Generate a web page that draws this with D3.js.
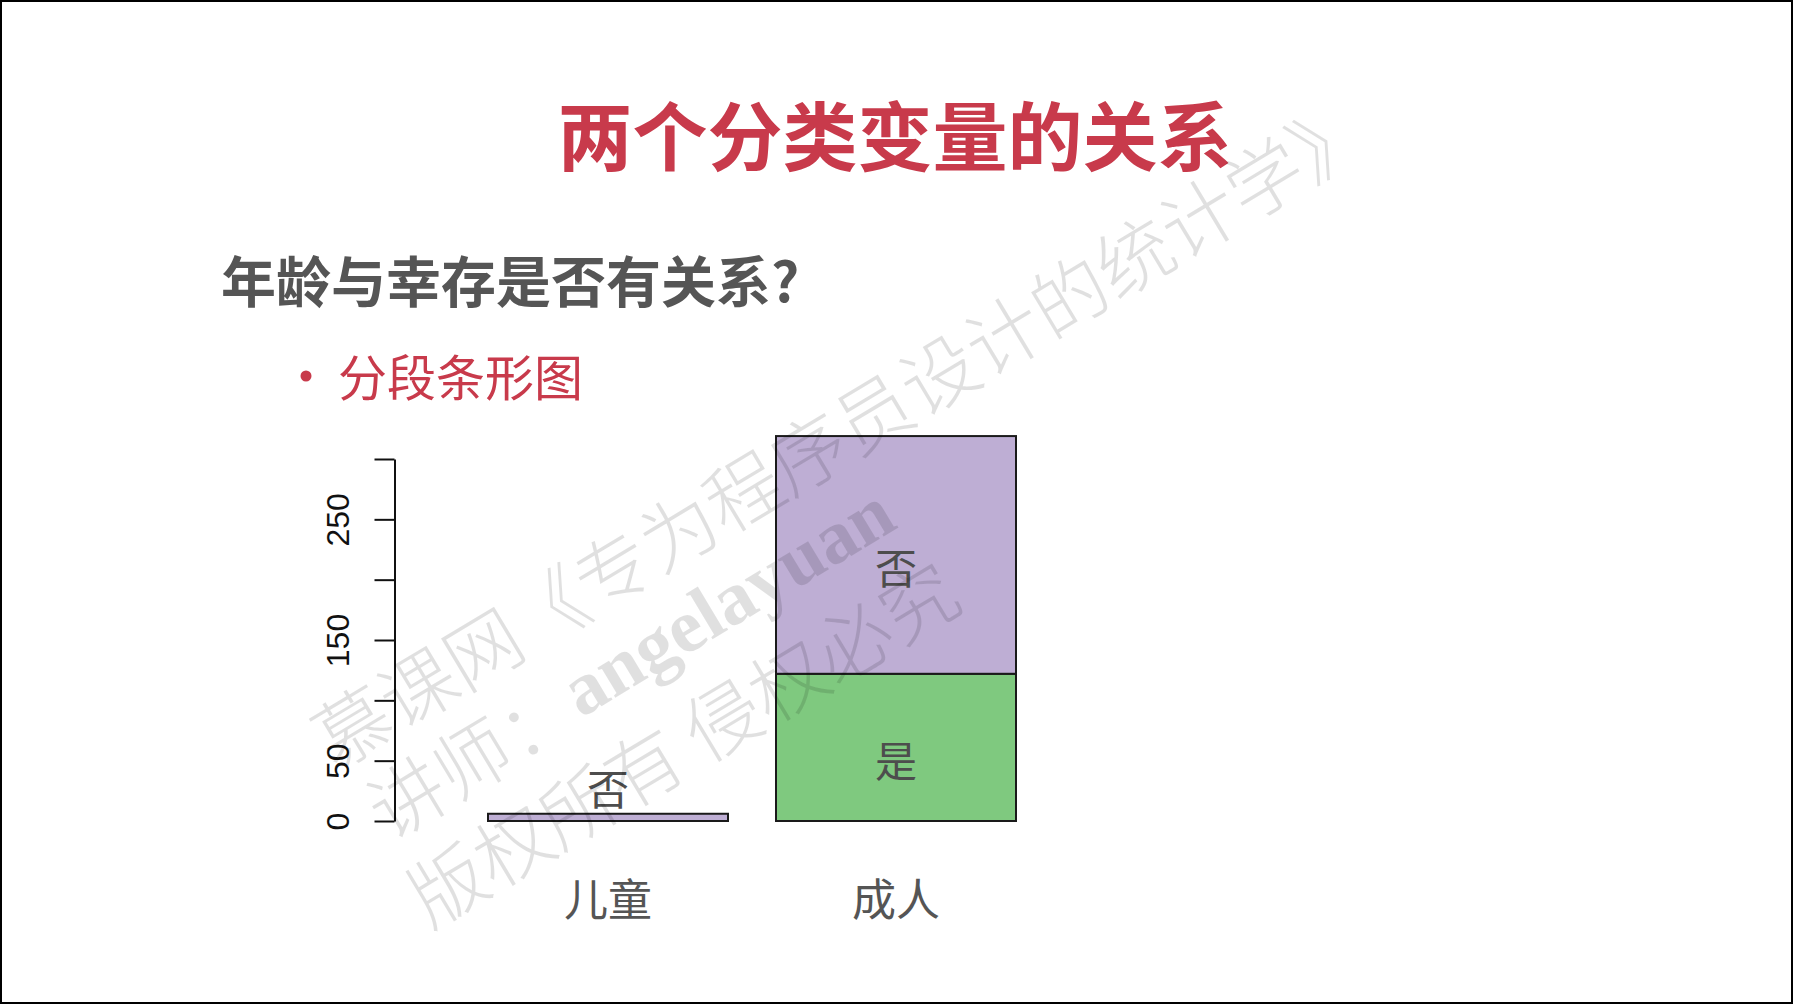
<!DOCTYPE html>
<html>
<head>
<meta charset="utf-8">
<script src="https://cdn.jsdelivr.net/npm/d3@7"></script>
<style>
  html, body { margin: 0; padding: 0; background: #fff; }
  svg { display: block; }
</style>
</head>
<body>
<svg id="chart" width="1793" height="1004"></svg>
<script>
// ---- data ----
const categories = ["儿童", "成人"];
const groups = ["是", "否"];
const yesValues = [0, 122];
const noValues = [6, 197];
const groupColors = ["#7FC97F", "#BEAED4"];
const yTicks = [0, 50, 100, 150, 200, 250, 300];
const yTickLabels = ["0", "50", "", "150", "", "250", ""];
const titleText = "两个分类变量的关系";
const subtitleText = "年龄与幸存是否有关系?";
const bulletText = "分段条形图";
const watermarkLines = ["慕课网《专为程序员设计的统计学》", "讲师：", "angelayuan", "版权所有 侵权必究"];

// ---- setup ----
const W = 1793, H = 1004;
const svg = d3.select("#chart");
const cjk = "'Noto Sans CJK SC', 'Noto Sans', sans-serif";
const red = "#c83a4b";
const gray = "#555555";

svg.append("rect").attr("x", 0).attr("y", 0).attr("width", W).attr("height", H).attr("fill", "#fff");

// titles
svg.append("text").text(titleText)
  .attr("x", 895).attr("y", 132)
  .attr("text-anchor", "middle").attr("dominant-baseline", "central")
  .attr("font-family", cjk).attr("font-weight", 700).attr("font-size", 75)
  .attr("fill", red);

svg.append("text").text(subtitleText)
  .attr("x", 221).attr("y", 278)
  .attr("dominant-baseline", "central")
  .attr("font-family", cjk).attr("font-weight", 700).attr("font-size", 55)
  .attr("fill", gray);

svg.append("circle").attr("cx", 306).attr("cy", 376).attr("r", 5.5).attr("fill", red);
svg.append("text").text(bulletText)
  .attr("x", 338).attr("y", 374)
  .attr("dominant-baseline", "central")
  .attr("font-family", cjk).attr("font-weight", 400).attr("font-size", 49)
  .attr("fill", red);

// ---- chart ----
const table = categories.map((c, i) => ({ cat: c, "是": yesValues[i], "否": noValues[i] }));
const stack = d3.stack().keys(groups)(table);

const y = d3.scaleLinear().domain([0, 300]).range([821, 459]);
const x = d3.scaleBand().domain(categories).range([464, 1040]).paddingInner(1 / 6).paddingOuter(1 / 12);
const color = d3.scaleOrdinal().domain(groups).range(groupColors);

const chart = svg.append("g");

// y axis
const yAxis = d3.axisLeft(y).tickValues(yTicks).tickSize(20).tickSizeOuter(0)
  .tickFormat((d, i) => yTickLabels[i]);
const ax = chart.append("g").attr("transform", "translate(394.5,0)").call(yAxis);
ax.select(".domain").attr("stroke", "#111").attr("stroke-width", 2);
ax.selectAll(".tick line").attr("stroke", "#111").attr("stroke-width", 2);
ax.selectAll(".tick text")
  .attr("font-family", "'Liberation Sans', Arial, sans-serif")
  .attr("font-size", 32).attr("fill", "#111")
  .attr("x", null).attr("dy", null)
  .attr("text-anchor", "middle").attr("dominant-baseline", "central")
  .attr("transform", "translate(-57,0) rotate(-90)");

// bars
const layers = chart.selectAll("g.layer").data(stack).join("g").attr("class", "layer")
  .attr("fill", d => color(d.key));
layers.selectAll("rect").data(d => d.filter(s => s[1] - s[0] > 0)).join("rect")
  .attr("x", d => x(d.data.cat))
  .attr("width", x.bandwidth())
  .attr("y", d => y(d[1]))
  .attr("height", d => y(d[0]) - y(d[1]))
  .attr("stroke", "#1a1a1a").attr("stroke-width", 2);

// segment labels
stack.forEach(layer => {
  layer.forEach(seg => {
    const v = seg[1] - seg[0];
    if (v <= 0) return;
    const top = y(seg[1]), bot = y(seg[0]);
    const small = (bot - top) < 40;
    const cy = small ? top - 27 : (top + bot) / 2 + 11;
    chart.append("text").text(layer.key)
      .attr("x", x(seg.data.cat) + x.bandwidth() / 2)
      .attr("y", cy)
      .attr("text-anchor", "middle").attr("dominant-baseline", "central")
      .attr("font-family", cjk).attr("font-size", 42).attr("fill", "#4d4d4d");
  });
});

// category labels
chart.selectAll("text.cat").data(categories).join("text").attr("class", "cat")
  .text(d => d)
  .attr("x", d => x(d) + x.bandwidth() / 2)
  .attr("y", 897)
  .attr("text-anchor", "middle").attr("dominant-baseline", "central")
  .attr("font-family", cjk).attr("font-size", 44).attr("fill", gray);

// ---- watermark ----
const wm = svg.append("g").attr("transform", "rotate(-31)")
  .attr("fill", "#000").attr("fill-opacity", 0.12)
  .attr("font-size", 76).attr("dominant-baseline", "central");
wm.append("text").text(watermarkLines[0])
  .attr("x", -110).attr("y", 800)
  .attr("font-family", cjk).attr("font-weight", 300);
const l2 = wm.append("text").attr("x", -100).attr("y", 889);
l2.append("tspan").text(watermarkLines[1]).attr("font-family", cjk).attr("font-weight", 300);
l2.append("tspan").text(watermarkLines[2])
  .attr("font-family", "'Liberation Serif', 'DejaVu Serif', serif").attr("font-weight", 700);
wm.append("text").text(watermarkLines[3])
  .attr("x", -110).attr("y", 985)
  .attr("font-family", cjk).attr("font-weight", 300);

// frame
svg.append("rect").attr("x", 1).attr("y", 1).attr("width", W - 2).attr("height", H - 2)
  .attr("fill", "none").attr("stroke", "#000").attr("stroke-width", 2);
</script>
</body>
</html>
